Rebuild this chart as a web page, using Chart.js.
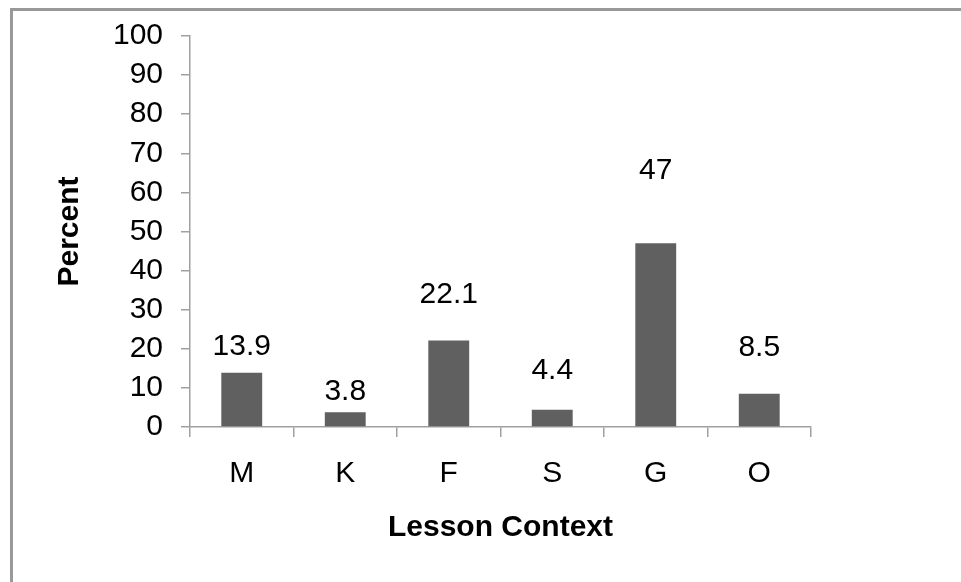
<!DOCTYPE html>
<html>
<head>
<meta charset="utf-8">
<script src="https://cdn.jsdelivr.net/npm/chart.js@4/dist/chart.umd.min.js"></script>
<style>
  html, body { margin: 0; padding: 0; background: #ffffff; }
  #wrap { position: relative; width: 961px; height: 582px; overflow: hidden; }
  #frame {
    position: absolute; left: 10px; top: 8px; width: 1000px; height: 1000px;
    border-top: 3px solid #999999; border-left: 3px solid #999999;
    box-sizing: border-box;
  }
  #c { position: absolute; left: 0; top: 0; }
</style>
</head>
<body>
<div id="wrap">
  <div id="frame"></div>
  <canvas id="c" width="961" height="582"></canvas>
</div>
<script>
// Lesson context categories and their percentages
const categories = ['M', 'K', 'F', 'S', 'G', 'O'];
const percents = [13.9, 3.8, 22.1, 4.4, 47, 8.5];
const yTicks = [0, 10, 20, 30, 40, 50, 60, 70, 80, 90, 100];

const FONT = '"Liberation Sans", Arial, Helvetica, sans-serif';
const AXIS_GREY = '#a0a0a0';

// Value labels written above each bar; the lift (in px above the bar top)
// varies per bar, as the labels were placed by hand.
const valueLabels = {
  id: 'valueLabels',
  afterDatasetsDraw(chart, args, opts) {
    const ctx = chart.ctx;
    const meta = chart.getDatasetMeta(0);
    ctx.save();
    ctx.font = '30px ' + FONT;
    ctx.fillStyle = '#000000';
    ctx.textAlign = 'center';
    ctx.textBaseline = 'middle';
    meta.data.forEach((bar, i) => {
      const v = chart.data.datasets[0].data[i];
      ctx.fillText(String(v), bar.x, bar.y - opts.lift[i]);
    });
    ctx.restore();
  }
};

new Chart(document.getElementById('c'), {
  type: 'bar',
  data: {
    labels: categories,
    datasets: [{
      data: percents,
      backgroundColor: '#606060',
      borderWidth: 0,
      categoryPercentage: 1.0,
      barPercentage: 0.395
    }]
  },
  options: {
    responsive: false,
    animation: false,
    layout: { padding: { top: 35, right: 150, left: 0, bottom: 0 } },
    plugins: {
      legend: { display: false },
      tooltip: { enabled: false },
      valueLabels: { lift: [26, 20, 46, 39, 72, 46] }
    },
    scales: {
      x: {
        afterFit(scale) { scale.height = 155; },
        grid: {
          offset: true,
          drawOnChartArea: false,
          drawTicks: true,
          tickLength: 10,
          color: AXIS_GREY,
          lineWidth: 1.5
        },
        border: { display: true, color: AXIS_GREY, width: 1.5 },
        ticks: {
          color: '#000000',
          padding: 19,
          font: { family: FONT, size: 30 }
        },
        title: {
          display: true,
          text: 'Lesson Context',
          color: '#000000',
          font: { family: FONT, size: 30, weight: 'bold' },
          padding: { top: 0, bottom: 36 }
        }
      },
      y: {
        min: 0,
        max: 100,
        afterFit(scale) { scale.width = 190; },
        afterBuildTicks(scale) { scale.ticks = yTicks.map(v => ({ value: v })); },
        grid: {
          drawOnChartArea: false,
          drawTicks: true,
          tickLength: 9,
          color: AXIS_GREY,
          lineWidth: 1.5
        },
        border: { display: true, color: AXIS_GREY, width: 1.5 },
        ticks: {
          color: '#000000',
          padding: 18,
          font: { family: FONT, size: 30 }
        },
        title: {
          display: true,
          text: 'Percent',
          color: '#000000',
          font: { family: FONT, size: 30, weight: 'bold' },
          padding: { top: 52, bottom: 0 }
        }
      }
    }
  },
  plugins: [valueLabels]
});
</script>
</body>
</html>
